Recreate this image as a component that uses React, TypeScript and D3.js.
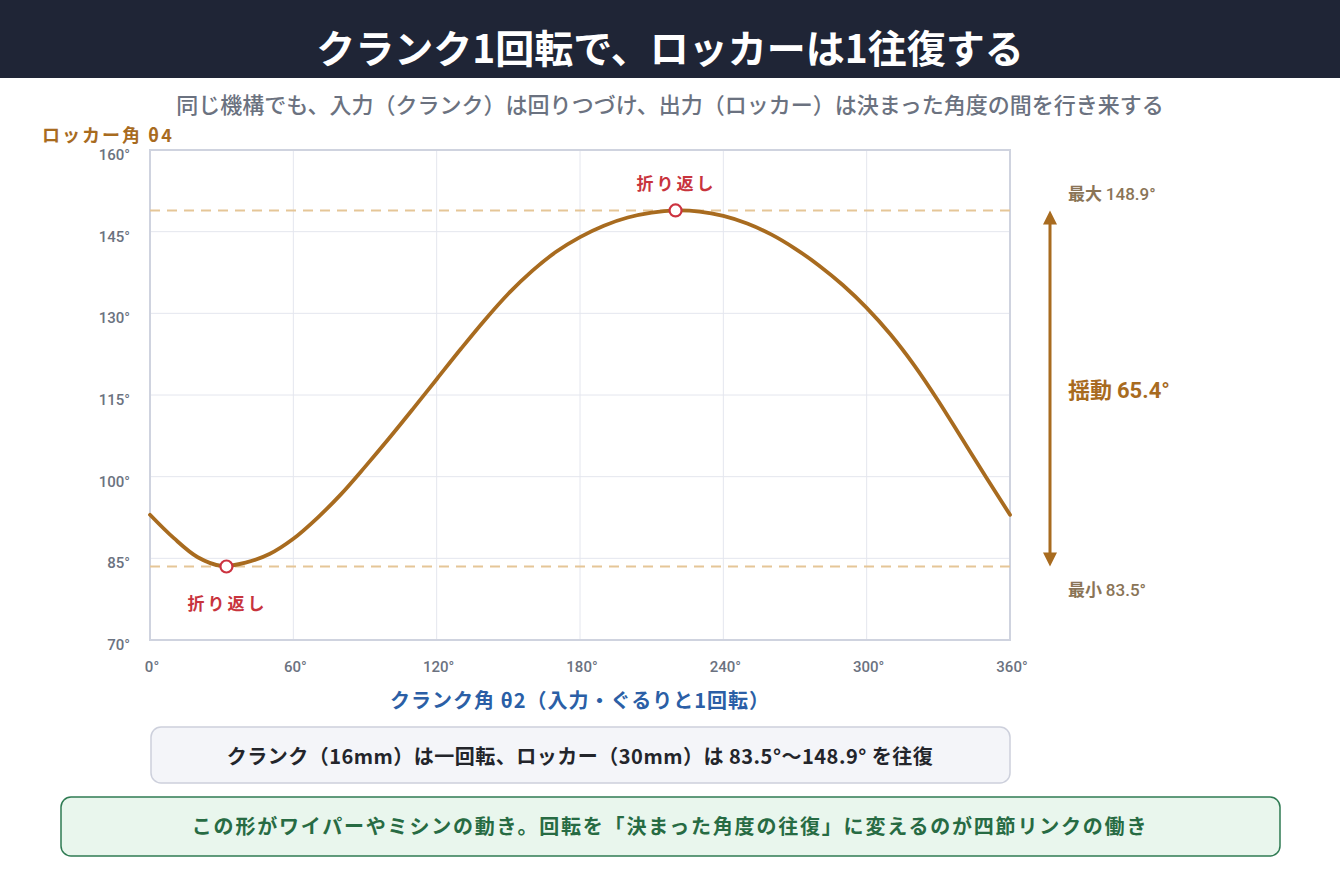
import * as d3 from 'd3';
import React from 'react';

// crank angle θ2 (deg) and rocker angle θ4 (deg)
const crankAngles = [0, 10, 20, 30, 40, 50, 60, 70, 80, 90, 100, 110, 120, 130, 140, 150, 160, 170, 180,
    190, 200, 210, 220, 230, 240, 250, 260, 270, 280, 290, 300, 310, 320, 330, 340, 350, 360];
const rockerAngles = [93.0, 88.7, 85.2, 83.6, 84.2, 85.8, 88.6, 92.4, 96.8, 101.8, 107.0, 112.4, 117.9, 123.4, 128.7, 133.6, 137.8, 141.3, 144.0,
    146.1, 147.6, 148.5, 148.9, 148.7, 147.9, 146.5, 144.5, 141.9, 138.8, 135.2, 131.0, 126.1, 120.4, 113.9, 106.9, 99.9, 93.0];

const turnPoints = [
    { theta: 32, value: 83.5, label: '折り返し', pos: 'below' },
    { theta: 220, value: 148.9, label: '折り返し', pos: 'above' },
];
const minAngle = 83.5;
const maxAngle = 148.9;
const swing = 65.4;

const xTicks = [0, 60, 120, 180, 240, 300, 360];
const yTicks = [70, 85, 100, 115, 130, 145, 160];

const title = 'クランク1回転で、ロッカーは1往復する';
const subtitle = '同じ機構でも、入力（クランク）は回りつづけ、出力（ロッカー）は決まった角度の間を行き来する';
const yTitle = 'ロッカー角 θ4';
const xTitle = 'クランク角 θ2（入力・ぐるりと1回転）';
const note1 = 'クランク（16mm）は一回転、ロッカー（30mm）は 83.5°～148.9° を往復';
const note2 = 'この形がワイパーやミシンの動き。回転を「決まった角度の往復」に変えるのが四節リンクの働き';

const JP = '"Noto Sans CJK JP", "Noto Sans", sans-serif';
const NUM = 'Roboto, "Noto Sans", sans-serif';

export default () => {
    const W = 1340;
    const H = 880;
    const plot = { left: 150, right: 1010, top: 150, bottom: 640 };

    const xScale = d3.scaleLinear().domain([0, 360]).range([plot.left, plot.right]);
    const yScale = d3.scaleLinear().domain([70, 160]).range([plot.bottom, plot.top]);

    const data = crankAngles.map((t, i) => ({ t, v: rockerAngles[i] }));
    const line = d3.line<any>()
        .x((d) => xScale(d.t))
        .y((d) => yScale(d.v))
        .curve(d3.curveCatmullRom.alpha(0.5));

    const brown = '#a86b1f';
    const arrowX = 1050;
    const yMax = yScale(maxAngle);
    const yMin = yScale(minAngle);

    return (
        <svg width={W} height={H} style={{ position: 'absolute', left: 0, top: 0 }} fontFamily={JP}>
            <rect x={0} y={0} width={W} height={H} fill="#ffffff" />
            {/* header */}
            <rect x={0} y={0} width={W} height={78} fill="#1f2536" />
            <text x={W / 2} y={63} textAnchor="middle" fill="#ffffff" fontSize={39} fontWeight={700}>{title}</text>
            <text x={W / 2} y={113} textAnchor="middle" fill="#6b7280" fontSize={22} fontWeight={500}>{subtitle}</text>

            {/* y title */}
            <text x={42} y={142} fill={brown} fontSize={18} fontWeight={700} letterSpacing={2}>{yTitle}</text>

            {/* grid */}
            <g stroke="#e4e6ee" strokeWidth={1}>
                {yTicks.map((t) => (
                    <line key={'gy' + t} x1={plot.left} x2={plot.right} y1={yScale(t)} y2={yScale(t)} />
                ))}
                {xTicks.map((t) => (
                    <line key={'gx' + t} x1={xScale(t)} x2={xScale(t)} y1={plot.top} y2={plot.bottom} />
                ))}
            </g>
            <rect x={plot.left} y={plot.top} width={plot.right - plot.left} height={plot.bottom - plot.top}
                fill="none" stroke="#cfd3df" strokeWidth={2} />

            {/* tick labels */}
            <g fontFamily={NUM} fontSize={15} fill="#6b7280" fontWeight={500}>
                {yTicks.map((t) => (
                    <text key={'ty' + t} x={130} y={yScale(t) + 10} textAnchor="end">{t}°</text>
                ))}
                {xTicks.map((t) => (
                    <text key={'tx' + t} x={xScale(t) + 2} y={672} textAnchor="middle">{t}°</text>
                ))}
            </g>

            {/* extreme lines */}
            <g stroke="#e5c697" strokeWidth={2} strokeDasharray="10 7">
                <line x1={plot.left} x2={plot.right} y1={yMax} y2={yMax} />
                <line x1={plot.left} x2={plot.right} y1={yMin} y2={yMin} />
            </g>

            {/* curve */}
            <path d={line(data) as string} fill="none" stroke={brown} strokeWidth={3.8} strokeLinecap="round" />

            {/* turning points */}
            {turnPoints.map((p, i) => (
                <g key={'tp' + i}>
                    <circle cx={xScale(p.theta)} cy={yScale(p.value)} r={6} fill="#ffffff" stroke="#cc3340" strokeWidth={2.2} />
                    <text x={xScale(p.theta) + 1} y={p.pos === 'above' ? yScale(p.value) - 20 : yScale(p.value) + 43}
                        textAnchor="middle" fill="#c8343d" fontSize={17} fontWeight={700} letterSpacing={3}>{p.label}</text>
                </g>
            ))}

            {/* swing arrow */}
            <line x1={arrowX} x2={arrowX} y1={yMax + 10} y2={yMin - 10} stroke={brown} strokeWidth={3} />
            <path d={`M${arrowX},${yMax} L${arrowX - 7},${yMax + 14} L${arrowX + 7},${yMax + 14} Z`} fill={brown} />
            <path d={`M${arrowX},${yMin} L${arrowX - 7},${yMin - 14} L${arrowX + 7},${yMin - 14} Z`} fill={brown} />

            <text x={1068} y={200} fill="#8a7456" fontSize={17} fontWeight={700}>
                最大 <tspan fontFamily={NUM} fontWeight={500}>{maxAngle}°</tspan>
            </text>
            <text x={1068} y={596} fill="#8a7456" fontSize={17} fontWeight={700}>
                最小 <tspan fontFamily={NUM} fontWeight={500}>{minAngle}°</tspan>
            </text>
            <text x={1068} y={398} fill={brown} fontSize={22} fontWeight={700}>
                揺動 <tspan fontFamily={NUM}>{swing}°</tspan>
            </text>

            {/* x title */}
            <text x={(plot.left + plot.right) / 2} y={708} textAnchor="middle" fill="#2b5fa6" fontSize={20} fontWeight={700} letterSpacing={1}>{xTitle}</text>

            {/* note boxes */}
            <rect x={151} y={727} width={859} height={56} rx={10} fill="#f4f5f9" stroke="#cdd0dc" strokeWidth={1.5} />
            <text x={580} y={764} textAnchor="middle" fill="#23252b" fontSize={20} fontWeight={700} letterSpacing={0.5}>{note1}</text>

            <rect x={61} y={797} width={1219} height={59} rx={10} fill="#e9f6ed" stroke="#2f7b53" strokeWidth={1.5} />
            <text x={670} y={834} textAnchor="middle" fill="#276b43" fontSize={20} fontWeight={700} letterSpacing={1.8}>{note2}</text>
        </svg>
    );
};
